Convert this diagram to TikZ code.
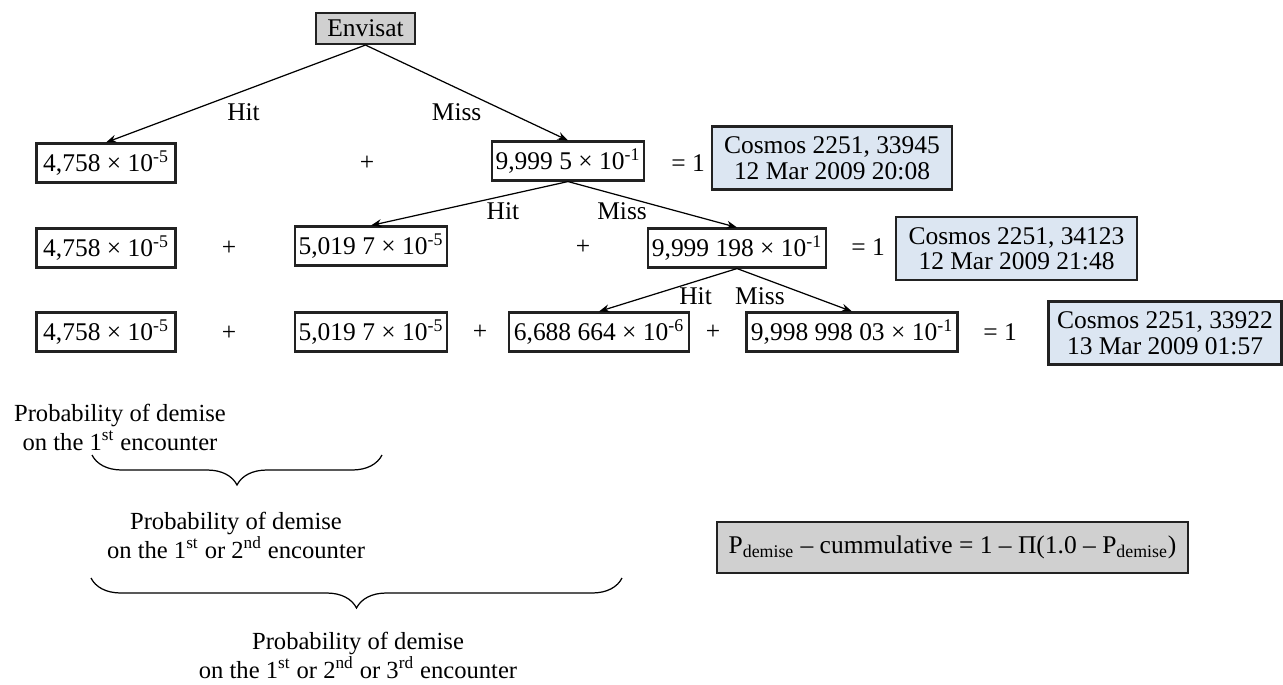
\documentclass[tikz,border=0pt]{standalone}
\usepackage{fontspec}
\setmainfont{Liberation Serif}
\usetikzlibrary{arrows.meta,decorations.pathreplacing}
\definecolor{boxgrey}{HTML}{D0D0D0}
\definecolor{cosblue}{HTML}{DCE6F2}
\definecolor{edge}{HTML}{222222}

\begin{document}
\begin{tikzpicture}[x=0.02cm,y=-0.02cm,font=\fontsize{14.5}{17}\selectfont,
    numbox/.style={draw=edge,line width=1.2pt,minimum height=0.78cm,inner xsep=2pt},
    cosbox/.style={draw=edge,line width=1.2pt,fill=cosblue,align=center,minimum height=1.26cm,
      font=\fontsize{14.5}{14.5}\selectfont},
    greybox/.style={draw=edge,line width=1.2pt,fill=boxgrey},
    branch/.style={-{Stealth[length=6pt,width=4.5pt]},line width=0.7pt},
    lbl/.style={inner sep=2pt},
    curly/.style={decorate,decoration={brace,mirror,amplitude=0.6cm},line width=0.7pt},
    demise/.style={align=center,inner sep=1pt,font=\fontsize{14}{16.5}\selectfont}]
  \useasboundingbox (0,0) rectangle (1283,684);
  \node[greybox,minimum width=1.98cm,minimum height=0.62cm] (env) at (365.5,28.5) {Envisat};
  % probability boxes, one row per encounter
  \foreach \n/\x/\y/\w/\t in {
      r1a/106/163/2.78/{4,758 × 10\textsuperscript{-5}},
      r1b/568/161/3.0/{9,999 5 × 10\textsuperscript{-1}},
      r2a/106/248/2.78/{4,758 × 10\textsuperscript{-5}},
      r2b/371/246/3.0/{5,019 7 × 10\textsuperscript{-5}},
      r2c/737/248/3.54/{9,999 198 × 10\textsuperscript{-1}},
      r3a/106/332/2.78/{4,758 × 10\textsuperscript{-5}},
      r3b/371/332/3.0/{5,019 7 × 10\textsuperscript{-5}},
      r3c/599/332/3.6/{6,688 664 × 10\textsuperscript{-6}},
      r3d/852/332/4.22/{9,998 998 03 × 10\textsuperscript{-1}}}
    \node[numbox,minimum width=\w cm] (\n) at (\x,\y) {\t};
  \foreach \n/\x/\y in {p1/367/163,p2a/229/248,p2b/583/247,p3a/229/333,p3b/480/332,p3c/713/332}
    \node (\n) at (\x,\y) {+};
  \foreach \n/\x/\y in {e1/688/163,e2/868/247,e3/1000/332}
    \node (\n) at (\x,\y) {= 1};
  % debris objects
  \node[cosbox,minimum width=4.8cm] (c1) at (832,158) {Cosmos 2251, 33945\\12 Mar 2009 20:08};
  \node[cosbox,minimum width=4.82cm] (c2) at (1016.5,248.5) {Cosmos 2251, 34123\\12 Mar 2009 21:48};
  \node[cosbox,minimum width=4.66cm] (c3) at (1165,333) {Cosmos 2251, 33922\\13 Mar 2009 01:57};
  % hit / miss branches
  \draw[branch] (env.south) -- node[lbl,pos=0.47,below=5pt] (h1) {Hit} (r1a.north);
  \draw[branch] (env.south) -- node[lbl,pos=0.45,below=6.5pt] (m1) {Miss} (r1b.north);
  \draw[branch] (r1b.south) -- node[lbl,pos=0.33,below=1.5pt] (h2) {Hit} (r2b.north);
  \draw[branch] (r1b.south) -- node[lbl,pos=0.32,below=1.3pt] (m2) {Miss} (r2c.north);
  \draw[branch] (r2c.south) -- node[lbl,pos=0.3,below=1.2pt] (h3) {Hit} (r3c.north);
  \draw[branch] (r2c.south) -- node[lbl,pos=0.2,below=3.5pt] (m3) {Miss} (r3d.north);
  % cumulative braces
  \coordinate (b1l) at (92,455);
  \coordinate (b1r) at (382,455);
  \coordinate (b2l) at (91,578);
  \coordinate (b2r) at (622,578);
  \draw[curly] (b1l) -- (b1r);
  \draw[curly] (b2l) -- (b2r);
  \node[demise] (t1) at (120,427) {Probability of demise\\on the 1\textsuperscript{st} encounter};
  \node[demise] (t2) at (236,535) {Probability of demise\\on the 1\textsuperscript{st} or 2\textsuperscript{nd} encounter};
  \node[demise] (t3) at (358,655) {Probability of demise\\on the 1\textsuperscript{st} or 2\textsuperscript{nd} or 3\textsuperscript{rd} encounter};
  \node[greybox,minimum width=9.42cm,minimum height=1.02cm] (cum) at (952.5,547.5)
    {P\textsubscript{demise} – cummulative = 1 – Π(1.0 – P\textsubscript{demise})};
\end{tikzpicture}
\end{document}
